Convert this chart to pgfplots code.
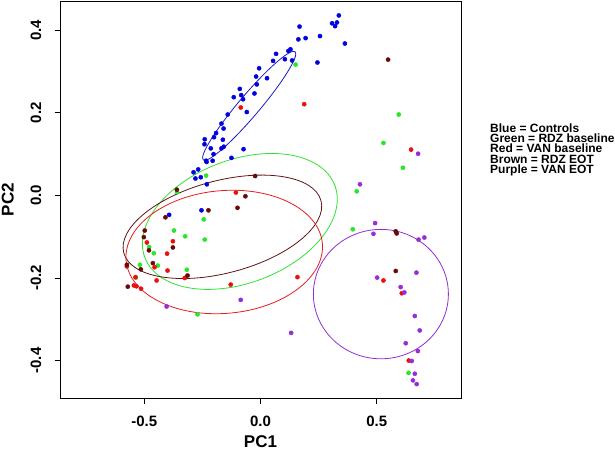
\documentclass[border=0pt]{standalone}
\usepackage{fontspec}
\setmainfont{Liberation Sans}
\usepackage{pgfplots}
\pgfplotsset{compat=1.18}
\definecolor{cblue}{RGB}{0,0,225}
\definecolor{cgreen}{RGB}{40,230,40}
\definecolor{cred}{RGB}{235,15,15}
\definecolor{cbrown}{RGB}{105,10,10}
\definecolor{cpurple}{RGB}{150,45,215}
\definecolor{eblue}{RGB}{25,25,200}
\definecolor{egreen}{RGB}{50,225,50}
\definecolor{ered}{RGB}{225,30,30}
\definecolor{ebrown}{RGB}{95,20,20}
\definecolor{epurple}{RGB}{145,45,210}
\begin{document}
\begin{tikzpicture}
\path[use as bounding box] (0,0) rectangle (615pt,452pt);
\begin{axis}[
  at={(60pt,54pt)}, anchor=south west,
  scale only axis, width=401pt, height=397pt,
  xmin=-0.8627, xmax=0.8627, ymin=-0.4907, ymax=0.471,
  axis line style={line width=0.9pt},
  tick style={black, line width=0.9pt},
  tick align=outside, major tick length=5.5pt,
  xtick pos=left, ytick pos=left,
  xtick={-0.5,0,0.5}, xticklabels={-0.5,0.0,0.5},
  ytick={-0.4,-0.2,0,0.2,0.4}, yticklabels={-0.4,-0.2,0.0,0.2,0.4},
  ticklabel style={font=\bfseries\fontsize{15}{15}\selectfont, inner sep=0pt},
  xticklabel style={yshift=-12pt, anchor=north},
  yticklabel style={xshift=-13pt, rotate=90, anchor=south},
  xlabel={PC1}, ylabel={PC2},
  label style={font=\bfseries\fontsize{17}{17}\selectfont, inner sep=0pt},
  xlabel style={at={(axis description cs:0.5,-0.125)}, anchor=base},
  ylabel style={at={(axis description cs:-0.146,0.5)}, anchor=north},
  every axis plot/.append style={only marks, mark=*, mark size=2.1pt},
]
\addplot[cblue, mark options={draw=cblue, fill=cblue}] coordinates {
(0.337,0.436) (0.308,0.417) (0.329,0.419) (0.321,0.410) (0.168,0.409)
(0.363,0.368) (0.256,0.386) (0.194,0.381) (0.163,0.378) (0.245,0.322)
(0.129,0.354) (0.120,0.350) (0.067,0.343) (0.105,0.330) (0.136,0.327)
(0.054,0.326) (-0.006,0.308) (-0.019,0.288) (0.028,0.284) (-0.016,0.269)
(-0.089,0.258) (-0.026,0.247) (-0.083,0.243) (-0.075,0.233) (-0.115,0.238)
(-0.059,0.202) (-0.141,0.196) (-0.168,0.174) (-0.159,0.162) (-0.191,0.151)
(-0.200,0.141) (-0.240,0.136) (-0.162,0.135) (-0.241,0.124) (-0.214,0.114)
(-0.168,0.114) (-0.158,0.118) (-0.073,0.112) (-0.202,0.100) (-0.125,0.091)
(-0.234,0.084) (-0.232,0.081) (-0.206,0.084) (-0.288,0.056) (-0.268,0.063)
(-0.280,0.041) (-0.257,0.044) (-0.231,0.027) (-0.393,-0.047) (-0.254,-0.036)
};
\addplot[cgreen, mark options={draw=cgreen, fill=cgreen}] coordinates {
(0.151,0.317) (-0.234,0.048) (-0.359,0.008) (-0.244,-0.058) (-0.372,-0.085)
(-0.324,-0.099) (-0.240,-0.107) (-0.479,-0.125) (-0.459,-0.140) (-0.519,-0.168)
(-0.442,-0.170) (-0.317,-0.180) (-0.536,-0.199) (-0.271,-0.288) (0.595,0.196)
(0.529,0.127) (0.613,0.067) (0.414,0.010) (0.397,-0.082) (0.637,-0.430)
};
\addplot[cred, mark options={draw=cred, fill=cred}] coordinates {
(-0.085,0.213) (0.188,0.221) (0.648,0.111) (-0.106,0.007) (-0.489,-0.114)
(-0.377,-0.111) (-0.402,-0.141) (-0.456,-0.174) (-0.400,-0.182) (-0.538,-0.198)
(-0.447,-0.206) (-0.326,-0.200) (-0.545,-0.218) (-0.534,-0.220) (-0.514,-0.226)
(-0.575,-0.172) (-0.128,-0.216) (0.159,-0.198) (0.529,-0.206) (0.608,-0.237)
(0.638,-0.400)
};
\addplot[cbrown, mark options={draw=cbrown, fill=cbrown}] coordinates {
(0.549,0.329) (-0.023,0.047) (-0.360,0.014) (-0.065,-0.002) (-0.224,-0.036)
(-0.099,-0.030) (-0.409,-0.053) (-0.498,-0.085) (-0.502,-0.101) (-0.377,-0.126)
(-0.480,-0.133) (-0.463,-0.164) (-0.515,-0.179) (-0.575,-0.168) (-0.571,-0.221)
(-0.314,-0.194) (0.582,-0.087) (0.586,-0.092) (0.582,-0.183)
};
\addplot[cpurple, mark options={draw=cpurple, fill=cpurple}] coordinates {
(0.678,0.101) (0.428,0.027) (0.493,-0.067) (0.486,-0.093) (0.705,-0.102)
(0.680,-0.107) (0.671,-0.187) (0.502,-0.199) (0.603,-0.222) (0.619,-0.235)
(0.664,-0.292) (0.685,-0.327) (0.625,-0.358) (0.677,-0.377) (0.651,-0.401)
(0.664,-0.432) (0.656,-0.448) (0.672,-0.457) (-0.085,-0.253) (-0.404,-0.269)
(0.132,-0.333)
};
\draw[eblue, line width=0.8pt, rotate around={49.7:(axis cs:-0.0486,0.217)}] (axis cs:-0.0486,0.217) ellipse [x radius=71pt, y radius=10.5pt];
\draw[egreen, line width=0.8pt, rotate around={20.8:(axis cs:-0.089,-0.063)}] (axis cs:-0.089,-0.063) ellipse [x radius=101.6pt, y radius=61.6pt];
\draw[ebrown, line width=0.8pt, rotate around={14.8:(axis cs:-0.164,-0.076)}] (axis cs:-0.164,-0.076) ellipse [x radius=102pt, y radius=46.2pt];
\draw[ered, line width=0.8pt, rotate around={4.9:(axis cs:-0.156,-0.137)}] (axis cs:-0.156,-0.137) ellipse [x radius=98.5pt, y radius=61.4pt];
\draw[epurple, line width=0.8pt] (axis cs:0.518,-0.239) ellipse [x radius=67.5pt, y radius=64.7pt];
\end{axis}
\begin{scope}[every node/.style={anchor=base west, inner sep=0pt, text height=8.6pt, text depth=0pt, font=\bfseries\fontsize{12}{12}\selectfont}]
\node at (490pt,319.4pt) {Blue = Controls};
\node at (490pt,309.2pt) {Green = RDZ baseline};
\node at (490pt,299.0pt) {Red = VAN baseline};
\node at (490pt,288.8pt) {Brown = RDZ EOT};
\node at (490pt,278.6pt) {Purple = VAN EOT};
\end{scope}
\end{tikzpicture}
\end{document}
